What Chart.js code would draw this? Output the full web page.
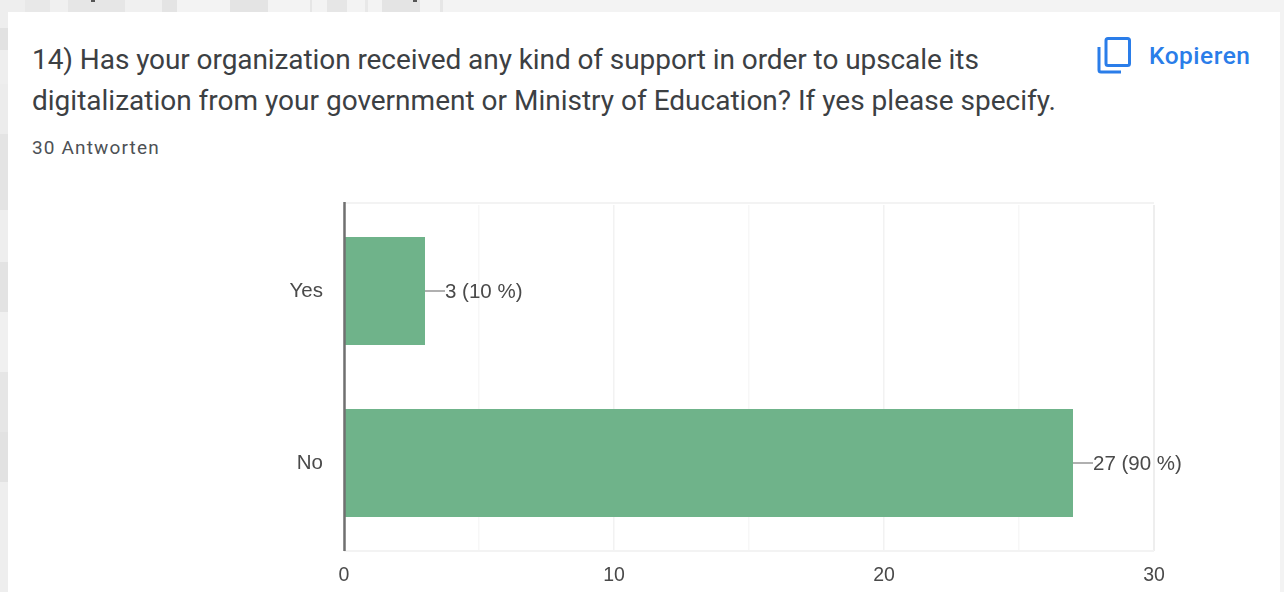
<!DOCTYPE html>
<html lang="en">
<head>
<meta charset="utf-8">
<title>14) Support for digitalization</title>
<script src="https://cdn.jsdelivr.net/npm/chart.js@4"></script>
<style>
    html, body { margin: 0; padding: 0; width: 1284px; height: 592px; overflow: hidden; background: #f3f3f3; }
    /* faded page backdrop behind the card */
    .strip-top { position: absolute; left: 0; top: 0; width: 500px; height: 12px;
        background: linear-gradient(90deg, #eee 0 25px, #e8e8e8 25px 50px, #f0f0f0 50px 68px, #e6e6e6 68px 125px, #f0f0f0 125px 162px, #e4e4e4 162px 177px, #f3f3f3 177px 230px, #e4e4e4 230px 268px, #f3f3f3 268px 310px, #e6e6e6 310px 312px, #f3f3f3 312px 327px, #e6e6e6 327px 347px, #f3f3f3 347px 365px, #e8e8e8 365px 368px, #f3f3f3 368px 382px, #e4e4e4 382px 420px, #f3f3f3 420px 440px, #e6e6e6 440px 443px, #f3f3f3 443px); }
    .strip-left { position: absolute; left: 0; top: 12px; width: 8px; height: 580px;
        background: linear-gradient(180deg, #eee 0 16px, #e2e2e2 16px 38px, #eee 38px 72px, #ececec 72px 122px, #e4e4e4 122px 198px, #eee 198px 250px, #e3e3e3 250px 300px, #f0f0f0 300px 360px, #e6e6e6 360px 420px, #e2e2e2 420px 470px, #eee 470px 580px); }
    .dot { position: absolute; top: 0; width: 4px; height: 2px; background: #555; }
    .card { position: absolute; left: 8px; top: 12px; width: 1272px; height: 580px; background: #fff; }
    .title { position: absolute; left: 32px; top: 39px; margin: 0; font: 400 28px/41px Roboto, sans-serif; color: #3c4043; white-space: nowrap; }
    .title span { letter-spacing: -0.08px; }
    .count { position: absolute; left: 32px; top: 137px; font: 400 19px/22px Roboto, sans-serif; letter-spacing: 1.15px; color: #4d5155; }
    .copy { position: absolute; left: 1149px; top: 42px; font: 500 24.5px/28px Roboto, sans-serif; letter-spacing: 0.5px; color: #2a7de9; }
    .copy-icon { position: absolute; left: 1096px; top: 36px; }
    #chart { position: absolute; left: 0; top: 0; }
</style>
</head>
<body>
<div class="strip-top"></div>
<div class="strip-left"></div>
<div class="dot" style="left: 91px"></div>
<div class="dot" style="left: 413px"></div>
<div class="card"></div>
<h1 class="title"><span>14) Has your organization received any kind of support in order to upscale its</span><br>digitalization from your government or Ministry of Education? If yes please specify.</h1>
<div class="count">30 Antworten</div>
<svg class="copy-icon" width="36" height="40" viewBox="0 0 36 40" fill="none" stroke="#2a7de9" stroke-width="3">
    <rect x="10" y="2.5" width="23.5" height="27" rx="2"></rect>
    <path d="M3 11 V34 a2 2 0 0 0 2 2 H25"></path>
</svg>
<div class="copy">Kopieren</div>
<canvas id="chart" width="1284" height="592"></canvas>
<script>
// Antwortdaten
const categories = ['Yes', 'No'];
const answerCounts = [3, 27];
const answerPercents = [10, 90];
const axisMax = 30;
const gridStep = 5;
const labelStep = 10;

const barColor = '#6fb38a';
const textColor = '#4a4a4a';

// Leader line and "n (p %)" text at the end of each bar
const barLabels = {
    id: 'barLabels',
    afterDatasetsDraw(chart) {
        const { ctx } = chart;
        const bars = chart.getDatasetMeta(0).data;
        ctx.save();
        ctx.font = '20.5px "Liberation Sans", sans-serif';
        ctx.textBaseline = 'middle';
        bars.forEach((bar, i) => {
            ctx.strokeStyle = '#b0b0b0';
            ctx.lineWidth = 2;
            ctx.beginPath();
            ctx.moveTo(bar.x, bar.y);
            ctx.lineTo(bar.x + 20, bar.y);
            ctx.stroke();
            ctx.fillStyle = textColor;
            ctx.fillText(`${answerCounts[i]} (${answerPercents[i]} %)`, bar.x + 20, bar.y + 1);
        });
        ctx.restore();
    }
};

// Faint frame lines, then the dark baseline on top of the bars
const frameLines = {
    id: 'frameLines',
    beforeDatasetsDraw(chart) {
        const { ctx, chartArea } = chart;
        ctx.save();
        ctx.strokeStyle = '#f3f3f3';
        ctx.lineWidth = 2;
        [chartArea.top - 2, chartArea.bottom + 2].forEach(y => {
            ctx.beginPath();
            ctx.moveTo(chartArea.left, y);
            ctx.lineTo(chartArea.right, y);
            ctx.stroke();
        });
        ctx.restore();
    },
    afterDatasetsDraw(chart) {
        const { ctx, chartArea, scales } = chart;
        const x = scales.x.getPixelForValue(0) + 0.5;
        ctx.save();
        ctx.strokeStyle = '#707070';
        ctx.lineWidth = 2.5;
        ctx.beginPath();
        ctx.moveTo(x, chartArea.top - 3);
        ctx.lineTo(x, chartArea.bottom + 2);
        ctx.stroke();
        ctx.restore();
    }
};

new Chart(document.getElementById('chart').getContext('2d'), {
    type: 'bar',
    data: {
        labels: categories,
        datasets: [{
            data: answerCounts,
            backgroundColor: barColor,
            barPercentage: 0.628,
            categoryPercentage: 1
        }]
    },
    options: {
        indexAxis: 'y',
        responsive: false,
        animation: false,
        layout: { padding: { top: 205, right: 130, left: 0, bottom: 0 }, autoPadding: false },
        plugins: { legend: { display: false }, tooltip: { enabled: false } },
        scales: {
            x: {
                min: 0,
                max: axisMax,
                afterFit(scale) { scale.height = 43; },
                grid: {
                    tickLength: 2,
                    lineWidth: ctx => (ctx.tick.value === axisMax ? 2 : 1.5),
                    color: ctx => (ctx.tick.value === axisMax ? '#eeeeee' : ctx.tick.value % labelStep === 0 ? '#f2f2f2' : '#f7f7f7')
                },
                border: { display: false },
                ticks: {
                    stepSize: gridStep,
                    maxRotation: 0,
                    autoSkip: false,
                    padding: 13,
                    color: textColor,
                    font: { family: '"Liberation Sans", sans-serif', size: 19.5 },
                    callback: v => (v % labelStep === 0 ? v : '')
                }
            },
            y: {
                afterFit(scale) { scale.width = 344; },
                grid: { display: false },
                border: { display: false },
                ticks: {
                    padding: 13,
                    color: textColor,
                    font: { family: '"Liberation Sans", sans-serif', size: 20.5 }
                }
            }
        }
    },
    plugins: [barLabels, frameLines]
});
</script>
</body>
</html>
